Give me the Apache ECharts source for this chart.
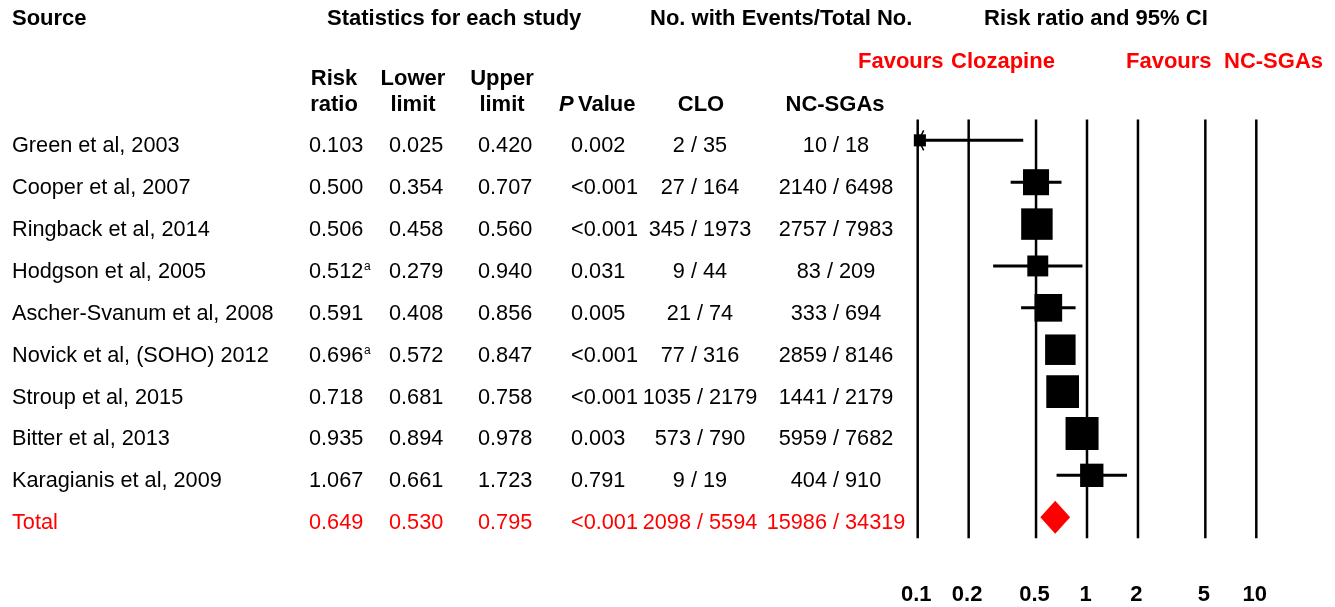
<!DOCTYPE html>
<html>
<head>
<meta charset="utf-8">
<script src="https://cdn.jsdelivr.net/npm/echarts@6/dist/echarts.min.js"></script>
<style>
html,body{margin:0;padding:0;background:#ffffff;}
#chart{width:1335px;height:607px;}
</style>
</head>
<body>
<div id="chart"></div>
<script>
// ---------- DATA ----------
const studies = ['Green et al, 2003', 'Cooper et al, 2007', 'Ringback et al, 2014', 'Hodgson et al, 2005',
  'Ascher-Svanum et al, 2008', 'Novick et al, (SOHO) 2012', 'Stroup et al, 2015', 'Bitter et al, 2013',
  'Karagianis et al, 2009'];
const riskRatio  = [0.103, 0.500, 0.506, 0.512, 0.591, 0.696, 0.718, 0.935, 1.067];
const lowerLimit = [0.025, 0.354, 0.458, 0.279, 0.408, 0.572, 0.681, 0.894, 0.661];
const upperLimit = [0.420, 0.707, 0.560, 0.940, 0.856, 0.847, 0.758, 0.978, 1.723];
const footnote   = ['', '', '', 'a', '', 'a', '', '', ''];
const pValue     = ['0.002', '<0.001', '<0.001', '0.031', '0.005', '<0.001', '<0.001', '0.003', '0.791'];
const cloEvents  = ['2 / 35', '27 / 164', '345 / 1973', '9 / 44', '21 / 74', '77 / 316', '1035 / 2179', '573 / 790', '9 / 19'];
const ncsgaEvents = ['10 / 18', '2140 / 6498', '2757 / 7983', '83 / 209', '333 / 694', '2859 / 8146', '1441 / 2179', '5959 / 7682', '404 / 910'];
const studyWeight = [2.2, 10.2, 14.9, 6.6, 11.5, 14.0, 16.1, 16.4, 8.2]; // relative weight (%)
const totalLabel = 'Total';
const totalRR = 0.649;
const totalLower = 0.530;
const totalUpper = 0.795;
const totalP = '<0.001';
const totalClo = '2098 / 5594';
const totalNcsga = '15986 / 34319';
const axisTicks = [0.1, 0.2, 0.5, 1, 2, 5, 10];
const axisTickLabels = ['0.1', '0.2', '0.5', '1', '2', '5', '10'];

// ---------- STYLE ----------
const FONT = '"Liberation Sans", Arial, sans-serif';
const FS = 21.7;
const FSB = 22;
const RED = '#ff0000';
const nRows = studies.length + 1;
const X_MIN = 0.1, X_MAX = 10;
const TEXT_DY = 6;

function txt(text, x, y, opt) {
  opt = opt || {};
  const align = opt.align || 'left';
  return {
    type: 'text',
    silent: true,
    style: {
      text: text, x: x, y: y,
      fill: opt.color || '#000',
      fontSize: opt.size || (opt.bold ? FSB : FS),
      fontFamily: FONT,
      fontWeight: opt.bold ? 'bold' : 'normal',
      fontStyle: opt.italic ? 'italic' : 'normal',
      textAlign: align, align: align,
      textVerticalAlign: 'middle', verticalAlign: 'middle'
    }
  };
}

// table rows (studies + total)
const tableRows = [];
for (let i = 0; i < studies.length; i++) {
  tableRows.push({ name: studies[i], rr: riskRatio[i].toFixed(3), lo: lowerLimit[i].toFixed(3), hi: upperLimit[i].toFixed(3),
    fn: footnote[i], p: pValue[i], clo: cloEvents[i], nc: ncsgaEvents[i], color: '#000' });
}
tableRows.push({ name: totalLabel, rr: totalRR.toFixed(3), lo: totalLower.toFixed(3), hi: totalUpper.toFixed(3),
  fn: '', p: totalP, clo: totalClo, nc: totalNcsga, color: RED });

const COL = { name: 12, rr: 309, lo: 389, hi: 478, p: 571, clo: 700, nc: 836 };

const chart = echarts.init(document.getElementById('chart'), null, { renderer: 'canvas' });

const option = {
  animation: false,
  backgroundColor: '#ffffff',
  grid: { left: 917.7, width: 338.6, top: 119.4, height: 418.75 },
  xAxis: { type: 'log', logBase: 10, min: X_MIN, max: X_MAX, show: false },
  yAxis: { type: 'value', min: -0.5, max: nRows - 0.5, inverse: true, show: false },
  graphic: [
    txt('Source', 12, 19, { bold: true }),
    txt('Statistics for each study', 327, 19, { bold: true }),
    txt('No. with Events/Total No.', 650, 19, { bold: true }),
    txt('Risk ratio and 95% CI', 984, 19, { bold: true }),
    txt('Favours', 858, 62, { bold: true, color: RED }),
    txt('Clozapine', 951, 62, { bold: true, color: RED }),
    txt('Favours', 1126, 62, { bold: true, color: RED }),
    txt('NC-SGAs', 1224, 62, { bold: true, color: RED }),
    txt('Risk', 334, 79, { bold: true, align: 'center' }),
    txt('ratio', 334, 105, { bold: true, align: 'center' }),
    txt('Lower', 413, 79, { bold: true, align: 'center' }),
    txt('limit', 413, 105, { bold: true, align: 'center' }),
    txt('Upper', 502, 79, { bold: true, align: 'center' }),
    txt('limit', 502, 105, { bold: true, align: 'center' }),
    txt('P', 559, 105, { bold: true, italic: true }),
    txt('Value', 578, 105, { bold: true }),
    txt('CLO', 701, 105, { bold: true, align: 'center' }),
    txt('NC-SGAs', 835, 105, { bold: true, align: 'center' })
  ],
  series: [
    // vertical reference lines + tick labels
    {
      type: 'custom',
      silent: true,
      clip: false,
      data: axisTicks.map((v, k) => [v, k]),
      encode: { x: 0 },
      renderItem: function (params, api) {
        const v = api.value(0);
        const k = api.value(1);
        const p1 = api.coord([v, -0.5]);
        const p2 = api.coord([v, nRows - 0.5]);
        return {
          type: 'group',
          children: [
            { type: 'line', shape: { x1: p1[0], y1: p1[1], x2: p2[0], y2: p2[1] },
              style: { stroke: '#000', lineWidth: 2.5 } },
            txt(axisTickLabels[k], p1[0] - 1.5, 595, { bold: true, align: 'center' })
          ]
        };
      }
    },
    // study CIs and boxes
    {
      type: 'custom',
      silent: true,
      clip: false,
      data: riskRatio.map((rr, i) => [rr, i, lowerLimit[i], upperLimit[i], studyWeight[i]]),
      encode: { x: 0, y: 1 },
      renderItem: function (params, api) {
        const rr = api.value(0), i = api.value(1), lo = api.value(2), hi = api.value(3), w = api.value(4);
        const c = api.coord([rr, i]);
        const y = c[1];
        const xl = api.coord([Math.max(lo, X_MIN), i])[0];
        const xh = api.coord([Math.min(hi, X_MAX), i])[0];
        const s = Math.sqrt(w) * 8.15;
        const ch = [
          { type: 'line', shape: { x1: xl, y1: y, x2: xh, y2: y }, style: { stroke: '#000', lineWidth: 3 } },
          { type: 'rect', shape: { x: c[0] - s / 2, y: y - s / 2, width: s, height: s }, style: { fill: '#000' } }
        ];
        if (lo < X_MIN) {
          ch.push({ type: 'polyline', shape: { points: [[xl + 6, y - 10], [xl + 1, y], [xl + 6, y + 10]] },
            style: { stroke: '#000', lineWidth: 1.5, fill: null } });
        }
        return { type: 'group', children: ch };
      }
    },
    // total diamond
    {
      type: 'custom',
      silent: true,
      clip: false,
      data: [[totalRR, nRows - 1, totalLower, totalUpper]],
      encode: { x: 0, y: 1 },
      renderItem: function (params, api) {
        const rr = api.value(0), i = api.value(1), lo = api.value(2), hi = api.value(3);
        const c = api.coord([rr, i]);
        const xl = api.coord([lo, i])[0], xh = api.coord([hi, i])[0];
        const h = 16.5;
        return {
          type: 'polygon',
          shape: { points: [[xl, c[1]], [c[0], c[1] - h], [xh, c[1]], [c[0], c[1] + h]] },
          style: { fill: RED }
        };
      }
    },
    // table text
    {
      type: 'custom',
      silent: true,
      clip: false,
      data: tableRows.map((r, i) => [1, i]),
      encode: { x: 0, y: 1 },
      renderItem: function (params, api) {
        const i = api.value(1);
        const r = tableRows[i];
        const y = api.coord([1, i])[1] + TEXT_DY;
        const col = r.color;
        const ch = [
          txt(r.name, COL.name, y, { color: col }),
          txt(r.rr, COL.rr, y, { color: col }),
          txt(r.lo, COL.lo, y, { color: col }),
          txt(r.hi, COL.hi, y, { color: col }),
          txt(r.p, COL.p, y, { color: col }),
          txt(r.clo, COL.clo, y, { color: col, align: 'center' }),
          txt(r.nc, COL.nc, y, { color: col, align: 'center' })
        ];
        if (r.fn) ch.push(txt(r.fn, COL.rr + 55, y - 5, { color: col, size: 12 }));
        return { type: 'group', children: ch };
      }
    }
  ]
};
chart.setOption(option);
</script>
</body>
</html>
